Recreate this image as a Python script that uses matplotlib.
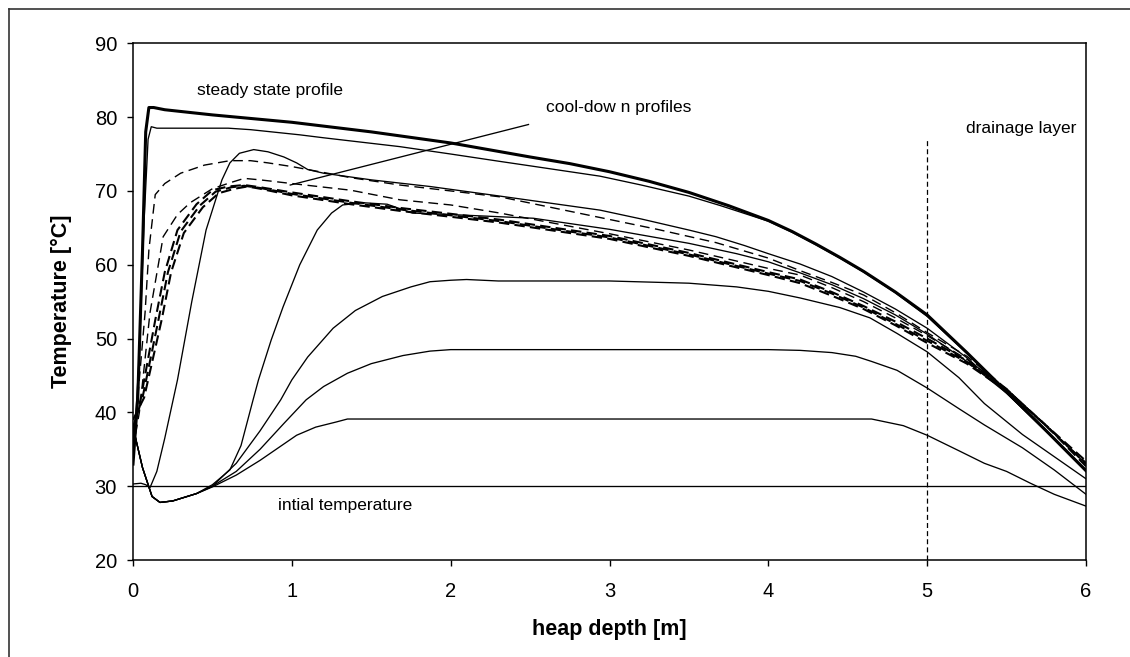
import matplotlib
matplotlib.use("Agg")
import matplotlib.pyplot as plt
from matplotlib.lines import Line2D

plt.rcParams['font.family'] = ['Liberation Sans', 'DejaVu Sans']

# ---------------- data ----------------
steady_x = [0.0, 0.03, 0.06, 0.08, 0.10, 0.13, 0.2, 0.5, 1.0, 1.5, 2.0, 2.5, 2.75, 3.0, 3.25, 3.5, 3.75, 4.0, 4.15, 4.3, 4.45, 4.6, 4.8, 5.0, 5.25, 5.5, 5.75, 6.0]
steady_T = [33, 42, 62, 78, 81.3, 81.3, 81.0, 80.3, 79.3, 78.0, 76.5, 74.6, 73.7, 72.6, 71.3, 69.8, 68.0, 66.0, 64.5, 62.8, 61.0, 59.1, 56.3, 53.2, 48.1, 42.8, 37.5, 32.1]

heat1_x = [0.0, 0.04, 0.07, 0.095, 0.115, 0.15, 0.3, 0.6, 0.74, 1.05, 1.2, 1.68, 2.0, 2.31, 2.5, 2.94, 3.2, 3.5, 3.7, 3.9, 4.0, 4.15, 4.3, 4.45, 4.6, 4.8, 5.0, 5.25, 5.5, 5.75, 6.0]
heat1_T = [33, 48, 66, 77, 78.7, 78.5, 78.5, 78.5, 78.3, 77.6, 77.2, 76.0, 75.0, 74.0, 73.4, 72.0, 70.8, 69.3, 68.0, 66.6, 65.9, 64.4, 62.7, 60.9, 59.0, 56.2, 53.0, 48.0, 42.7, 37.4, 32.0]

heat2_x = [0.0, 0.05, 0.08, 0.107, 0.15, 0.2, 0.28, 0.37, 0.46, 0.56, 0.61, 0.67, 0.76, 0.85, 0.95, 1.03, 1.1, 1.2, 1.5, 1.87, 2.31, 2.94, 3.2, 3.5, 3.67, 3.85, 4.0, 4.2, 4.4, 4.6, 4.8, 5.0, 5.25, 5.5, 5.75, 6.0]
heat2_T = [30.3, 30.4, 30.2, 29.8, 32.0, 36.5, 44.4, 55.0, 64.7, 71.5, 73.8, 75.1, 75.6, 75.3, 74.6, 73.8, 72.9, 72.4, 71.5, 70.6, 69.3, 67.4, 66.2, 64.7, 63.8, 62.6, 61.5, 60.1, 58.4, 56.3, 54.0, 51.4, 47.4, 42.6, 37.5, 32.2]

heat3_x = [0.0, 0.06, 0.12, 0.17, 0.25, 0.4, 0.5, 0.61, 0.68, 0.756, 0.79, 0.87, 0.945, 1.05, 1.16, 1.25, 1.32, 1.45, 1.6, 1.76, 2.0, 2.52, 3.0, 3.5, 3.8, 4.0, 4.2, 4.4, 4.6, 4.8, 5.0, 5.25, 5.5, 5.75, 6.0]
heat3_T = [38, 32.5, 28.6, 27.8, 28.0, 29.0, 30.2, 32.2, 35.5, 41.7, 44.4, 49.8, 54.3, 60.0, 64.7, 67.0, 68.1, 68.4, 68.2, 67.0, 66.8, 66.3, 64.8, 62.9, 61.5, 60.4, 58.9, 57.3, 55.4, 53.2, 50.6, 46.9, 42.6, 37.4, 32.1]

heat4_x = [0.0, 0.06, 0.12, 0.17, 0.25, 0.4, 0.5, 0.65, 0.8, 0.93, 1.0, 1.1, 1.26, 1.4, 1.57, 1.75, 1.87, 2.0, 2.1, 2.3, 2.5, 3.0, 3.5, 3.8, 4.0, 4.2, 4.45, 4.64, 4.81, 5.0, 5.2, 5.36, 5.6, 5.8, 6.0]
heat4_T = [38, 32.5, 28.6, 27.8, 28.0, 29.0, 30.0, 33.1, 37.5, 41.7, 44.4, 47.5, 51.4, 53.8, 55.7, 57.0, 57.7, 57.9, 58.0, 57.8, 57.8, 57.8, 57.5, 57.0, 56.4, 55.5, 54.2, 52.8, 50.7, 48.2, 44.7, 41.2, 37.0, 34.0, 31.0]

heat5_x = [0.0, 0.06, 0.12, 0.17, 0.25, 0.4, 0.5, 0.65, 0.8, 0.95, 1.09, 1.2, 1.35, 1.5, 1.7, 1.87, 2.0, 2.5, 3.0, 3.5, 4.0, 4.2, 4.4, 4.55, 4.65, 4.81, 5.0, 5.2, 5.36, 5.6, 5.8, 6.0]
heat5_T = [38, 32.5, 28.6, 27.8, 28.0, 29.0, 30.0, 32.0, 35.0, 38.5, 41.7, 43.5, 45.3, 46.6, 47.7, 48.3, 48.5, 48.5, 48.5, 48.5, 48.5, 48.4, 48.1, 47.6, 46.9, 45.7, 43.3, 40.5, 38.3, 35.2, 32.2, 28.9]

heat6_x = [0.0, 0.06, 0.12, 0.17, 0.25, 0.4, 0.5, 0.65, 0.8, 1.03, 1.15, 1.28, 1.35, 2.0, 3.0, 4.0, 4.65, 4.85, 5.0, 5.2, 5.36, 5.5, 5.65, 5.8, 6.0]
heat6_T = [38, 32.5, 28.6, 27.8, 28.0, 29.0, 29.9, 31.5, 33.5, 36.9, 38.0, 38.7, 39.1, 39.1, 39.1, 39.1, 39.1, 38.2, 36.9, 34.8, 33.1, 32.0, 30.4, 28.9, 27.3]

cool1_x = [0.0, 0.03, 0.076, 0.1, 0.14, 0.2, 0.3, 0.45, 0.61, 0.74, 0.85, 1.0, 1.2, 1.37, 1.68, 2.0, 2.31, 2.94, 3.3, 3.67, 4.0, 4.2, 4.4, 4.6, 4.8, 5.0, 5.25, 5.5, 5.75, 6.0]
cool1_T = [36, 42, 53.5, 62, 69.5, 71.0, 72.4, 73.5, 74.1, 74.1, 73.8, 73.3, 72.5, 71.8, 70.8, 70.0, 69.2, 66.4, 64.8, 63.0, 60.9, 59.2, 57.6, 55.9, 53.5, 50.8, 47.6, 43.2, 38.1, 33.0]

cool2_x = [0.0, 0.04, 0.107, 0.19, 0.28, 0.36, 0.5, 0.61, 0.7, 0.8, 1.0, 1.37, 1.68, 2.0, 2.31, 3.0, 3.5, 4.0, 4.2, 4.4, 4.6, 4.8, 5.0, 5.25, 5.5, 5.75, 6.0]
cool2_T = [35, 40, 53.5, 63.8, 66.8, 68.4, 70.3, 71.1, 71.7, 71.5, 71.0, 70.1, 68.8, 68.1, 67.0, 64.2, 62.0, 59.5, 58.6, 56.9, 55.0, 52.8, 50.4, 47.2, 43.2, 38.1, 33.2]

cool3_x = [0.0, 0.05, 0.14, 0.2, 0.28, 0.4, 0.5, 0.6, 0.7, 0.8, 1.0, 1.37, 1.68, 2.0, 2.31, 3.0, 3.5, 4.0, 4.2, 4.4, 4.6, 4.8, 5.0, 5.25, 5.5, 5.75, 6.0]
cool3_T = [37, 42, 52.5, 59.0, 64.7, 68.2, 70.1, 70.6, 70.8, 70.5, 69.8, 68.6, 67.7, 66.9, 66.1, 63.9, 61.6, 59.0, 58.0, 56.3, 54.4, 52.3, 50.0, 47.0, 43.1, 38.2, 33.4]

cool4_x = [0.0, 0.06, 0.16, 0.22, 0.3, 0.42, 0.52, 0.62, 0.7, 0.8, 1.0, 1.37, 1.68, 2.0, 2.31, 3.0, 3.5, 4.0, 4.2, 4.4, 4.6, 4.8, 5.0, 5.25, 5.5, 5.75, 6.0]
cool4_T = [38, 42, 52.5, 59.0, 64.5, 68.0, 69.9, 70.5, 70.7, 70.4, 69.6, 68.4, 67.5, 66.7, 65.9, 63.7, 61.4, 58.8, 57.8, 56.1, 54.2, 52.0, 49.7, 46.8, 43.0, 38.2, 33.0]

cool5_x = [0.0, 0.07, 0.18, 0.24, 0.32, 0.44, 0.54, 0.64, 0.72, 0.8, 1.0, 1.37, 1.68, 2.0, 2.31, 3.0, 3.5, 4.0, 4.2, 4.4, 4.6, 4.8, 5.0, 5.25, 5.5, 5.75, 6.0]
cool5_T = [39, 42, 52.5, 59.0, 64.3, 67.8, 69.7, 70.3, 70.6, 70.3, 69.4, 68.2, 67.3, 66.5, 65.7, 63.5, 61.2, 58.6, 57.5, 55.8, 54.0, 51.8, 49.4, 46.6, 42.9, 38.2, 32.7]

initial_T = 30
drainage_x = 5
drainage_top = 77

x_ticks = [0, 1, 2, 3, 4, 5, 6]
y_ticks = [20, 30, 40, 50, 60, 70, 80, 90]

# ---------------- figure ----------------
W, H = 1130, 657
fig = plt.figure(figsize=(W / 100, H / 100), dpi=100)
ax = fig.add_axes([133 / W, 1 - 560 / H, (1086 - 133) / W, (560 - 43.3) / H])

# outer frame (cropped on right and bottom)
fig.add_artist(Line2D([8.5 / W, 8.5 / W], [0, 1 - 9 / H], transform=fig.transFigure, color='#333333', lw=1.2))
fig.add_artist(Line2D([8.5 / W, 1], [1 - 9 / H, 1 - 9 / H], transform=fig.transFigure, color='#333333', lw=1.2))

k = 'black'
thin = 0.95
ax.axhline(initial_T, color=k, lw=thin)
ax.plot([drainage_x, drainage_x], [20, drainage_top], color=k, lw=0.9, dashes=(4, 2.5))

for xs, ts in [(heat6_x, heat6_T), (heat5_x, heat5_T), (heat4_x, heat4_T), (heat3_x, heat3_T),
               (heat2_x, heat2_T), (heat1_x, heat1_T)]:
    ax.plot(xs, ts, color=k, lw=thin, solid_joinstyle='round')

ax.plot(cool1_x, cool1_T, color=k, lw=1.0, dashes=(7, 4))
ax.plot(cool2_x, cool2_T, color=k, lw=1.0, dashes=(7, 4))
for xs, ts in [(cool3_x, cool3_T), (cool4_x, cool4_T), (cool5_x, cool5_T)]:
    ax.plot(xs, ts, color=k, lw=1.5, dashes=(5, 2.5))

ax.plot(steady_x, steady_T, color=k, lw=2.2, solid_joinstyle='round')

# leader line for cool-down profiles
ax.plot([0.99, 2.49], [70.8, 79.0], color=k, lw=thin)

fs_ann = 12.5
ax.text(0.403, 83.0, 'steady state profile', fontsize=fs_ann, va='baseline', ha='left')
ax.text(2.60, 80.7, 'cool-dow n profiles', fontsize=fs_ann, va='baseline', ha='left')
ax.text(5.245, 77.9, 'drainage layer', fontsize=fs_ann, va='baseline', ha='left')
ax.text(0.915, 26.8, 'intial temperature', fontsize=fs_ann, va='baseline', ha='left')

ax.set_xlim(0, 6)
ax.set_ylim(20, 90)
ax.set_xticks(x_ticks)
ax.set_yticks(y_ticks)
ax.tick_params(axis='both', direction='out', length=4.5, width=1.0, labelsize=14.5, color=k)
ax.tick_params(axis='x', pad=11)
ax.tick_params(axis='y', pad=7)
for s in ax.spines.values():
    s.set_linewidth(1.1)
    s.set_color(k)

ax.set_xlabel('heap depth [m]', fontsize=15.5, fontweight='bold', labelpad=13)
ax.set_ylabel('Temperature [°C]', fontsize=15.5, fontweight='bold', labelpad=16)

fig.savefig('out.png', dpi=100)
